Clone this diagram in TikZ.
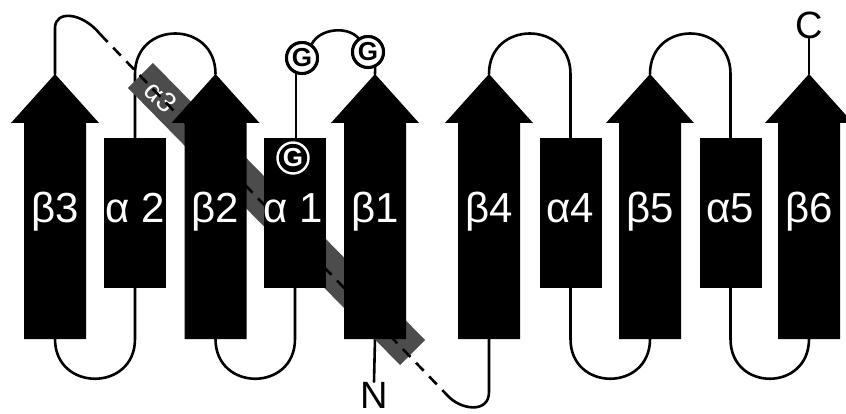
\documentclass[tikz,border=0pt]{standalone}
\usepackage{fontspec}
\setmainfont{Liberation Sans}
\tikzset{
  chain/.style={line width=2.6pt, line cap=round},
  dashchain/.style={line width=2.6pt, dash pattern=on 11pt off 8pt},
  helix/.style={fill=black, minimum width=62pt, minimum height=150pt, inner sep=0pt},
  lab/.style={text=white, font=\fontsize{42}{42}\selectfont, inner sep=0pt, anchor=base},
  term/.style={text=black, font=\fontsize{38}{38}\selectfont, inner sep=0pt},
  gball/.style={circle, draw=black, line width=3pt, fill=white, minimum size=31pt, inner sep=0pt, font=\fontsize{26}{26}\selectfont\bfseries},
  gin/.style={circle, draw=white, line width=2.4pt, fill=black, text=white, minimum size=31pt, inner sep=0pt, font=\fontsize{26}{26}\selectfont\bfseries},
  bar/.style={fill=black!70},
}
\newcommand{\bstrand}[2]{%
  \fill[black] (#2-31,339) -- (#2-31,123) -- (#2-44,123) -- (#2,74) -- (#2+44,123) -- (#2+31,123) -- (#2+31,339) -- cycle;}
\begin{document}
\begin{tikzpicture}[x=1pt, y=-1pt]
\useasboundingbox (0,0) rectangle (846,414);
% named points
\coordinate (b3t) at (55,74);   \coordinate (b3b) at (55,339);
\coordinate (b2t) at (215.5,74); \coordinate (b2b) at (215.5,339);
\coordinate (b1t) at (375,74);  \coordinate (b1b) at (375,339);
\coordinate (b4t) at (489,74);  \coordinate (b4b) at (489,339);
\coordinate (b5t) at (650,74);  \coordinate (b5b) at (650,339);
\coordinate (b6t) at (809,74);  \coordinate (b6b) at (809,339);
\coordinate (dstart) at (100,34);
\coordinate (dend) at (447,395);
% helices (nodes, drawn later on top)
\path node[helix] (a2) at (135,213) {}
      node[helix] (a1) at (295,213) {}
      node[helix] (a4) at (570.5,213) {}
      node[helix] (a5) at (730.5,213) {};
\node[gball] (g1) at (302,58) {G};
\node[gball] (g2) at (368,52) {G};
\node[term] (cterm) at (809,25) {C};
\node[term] (nterm) at (374,395) {N};
% loops (under everything)
\draw[chain] (b3t) -- (55,28) .. controls (55,10) and (82,12) .. (dstart);
\draw[chain] (a2.north) -- (135,74) .. controls (135,20) and (215.5,20) .. (b2t);
\draw[chain] (b3b) .. controls (55,392) and (135,392) .. (135,339) -- (a2.south);
\draw[chain] (b2b) .. controls (215.5,392) and (295,392) .. (295,339) -- (a1.south);
\draw[chain] (dend) .. controls (460,410) and (489,414) .. (489,392) -- (b4b);
\draw[chain] (b4t) .. controls (489,20) and (570.5,20) .. (570.5,74) -- (a4.north);
\draw[chain] (a4.south) -- (570.5,339) .. controls (570.5,392) and (650,392) .. (b5b);
\draw[chain] (b5t) .. controls (650,20) and (730.5,20) .. (730.5,74) -- (a5.north);
\draw[chain] (a5.south) -- (730.5,339) .. controls (730.5,392) and (809,392) .. (b6b);
\draw[chain] (b6t) -- (cterm.south);
\draw[chain] (b1b) -- (nterm.north);
\draw[chain] (296,138) -- (296,74);
\draw[chain] (g1.55) .. controls (320,28) and (348,26) .. (g2.125);
\draw[chain] (g2.-65) -- (b1t);
% alpha3 bar
\fill[bar] (128,88) -- (153,63) -- (425,340) -- (400,365) -- cycle;
\node[text=white, font=\fontsize{28}{28}\selectfont, inner sep=0pt, rotate=-45.5] (a3lab) at (161,97) {α3};
\draw[dashchain] (dstart) -- (dend);
% strands
\bstrand{s3}{55}
\bstrand{s2}{215.5}
\bstrand{s1}{375}
\bstrand{s4}{489}
\bstrand{s5}{650}
\bstrand{s6}{809}
% helices on top
\path node[helix] at (a2) {} node[helix] at (a1) {} node[helix] at (a4) {} node[helix] at (a5) {};
% redraw G balls on top
\node[gball] at (g1) {G};
\node[gball] at (g2) {G};
\node[gin] (g0) at (293,158) {G};
% labels
\node[lab] (l3) at (55,223) {β3};
\node[lab] (l2) at (135.5,223) {α 2};
\node[lab] (l22) at (215.5,223) {β2};
\node[lab] (l1) at (293,223) {α 1};
\node[lab] (l11) at (375,223) {β1};
\node[lab] (l4) at (489,223) {β4};
\node[lab] (l44) at (570,223) {α4};
\node[lab] (l5) at (650,223) {β5};
\node[lab] (l55) at (730,223) {α5};
\node[lab] (l6) at (809,223) {β6};
\end{tikzpicture}
\end{document}
